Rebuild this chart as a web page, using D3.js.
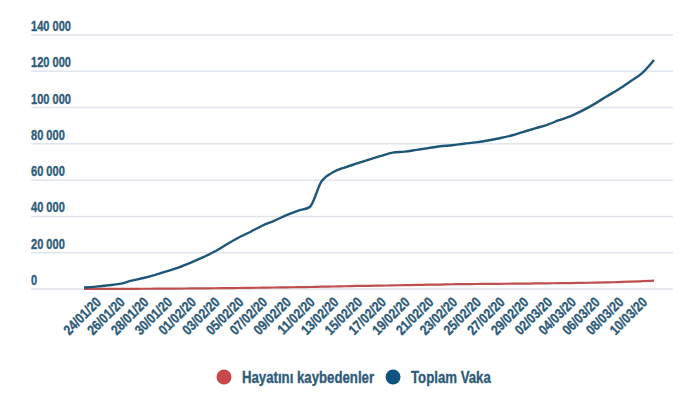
<!DOCTYPE html>
<html>
<head>
<meta charset="utf-8">
<script src="https://cdn.jsdelivr.net/npm/d3@7/dist/d3.min.js"></script>
<style>
  body { margin: 0; background: #fff; }
  text { font-family: "Liberation Sans", Arial, sans-serif; font-weight: bold; }
</style>
</head>
<body>
<div id="chart"></div>
<script>
var dates = ["23/01/20","24/01/20","25/01/20","26/01/20","27/01/20","28/01/20","29/01/20","30/01/20","31/01/20",
  "01/02/20","02/02/20","03/02/20","04/02/20","05/02/20","06/02/20","07/02/20","08/02/20","09/02/20","10/02/20",
  "11/02/20","12/02/20","13/02/20","14/02/20","15/02/20","16/02/20","17/02/20","18/02/20","19/02/20","20/02/20",
  "21/02/20","22/02/20","23/02/20","24/02/20","25/02/20","26/02/20","27/02/20","28/02/20","29/02/20",
  "01/03/20","02/03/20","03/03/20","04/03/20","05/03/20","06/03/20","07/03/20","08/03/20","09/03/20","10/03/20","11/03/20"];

var toplamVaka = [845,1317,2015,2800,4581,6058,7813,9823,11950,
  14553,17391,20630,24545,28266,31439,34876,37552,40553,43099,
  45134,59287,64438,67100,69197,71329,73332,75184,75700,76677,
  77673,78651,79205,80087,80828,81820,83112,84615,86604,
  88585,90443,93016,95314,98425,102050,106099,109991,114381,118948,126214];

var hayatiniKaybedenler = [25,41,56,80,106,132,170,213,259,
  304,362,426,492,565,638,724,813,910,1018,
  1115,1261,1383,1526,1669,1775,1873,2009,2126,2247,
  2360,2460,2618,2699,2763,2800,2858,2923,2977,
  3050,3117,3202,3285,3387,3494,3599,3827,4025,4296,4628];

var yTicks = [0,20000,40000,60000,80000,100000,120000,140000];
var seriesNames = ["Hayatını kaybedenler","Toplam Vaka"];
var lineColors = ["#bf4f4f","#1e5678"];
var dotColors = ["#c8474a","#0f5480"];
var textColor = "#2d5b79";

var width = 700, height = 397;

var svg = d3.select("#chart")
            .append("svg")
            .attr("width", width)
            .attr("height", height);

var x = d3.scalePoint()
          .domain(dates)
          .range([84, 654]);

var y = d3.scaleLinear()
          .domain([0, 140000])
          .range([289, 35]);

var fmt = d3.formatLocale({decimal: ",", thousands: " ", grouping: [3], currency: ["", ""]}).format(",");

// the bold face is squeezed horizontally and given a thin outline so it reads as a heavy condensed font
function heavy(sel) {
  sel.attr("fill", textColor)
     .attr("stroke", textColor)
     .attr("stroke-width", 0.35);
}

// grid + y labels
var grid = svg.append("g");
grid.selectAll("line")
    .data(yTicks)
    .enter()
    .append("line")
    .attr("x1", 31).attr("x2", 673)
    .attr("y1", d => y(d)).attr("y2", d => y(d))
    .attr("stroke", "#dfe5ea")
    .attr("stroke-width", 1.5);

grid.selectAll("text")
    .data(yTicks)
    .enter()
    .append("text")
    .attr("transform", d => "translate(31," + (y(d) - 4) + ") scale(0.79,1)")
    .style("font-size", "14px")
    .call(heavy)
    .text(d => fmt(d));

// x labels, every second day
svg.append("g")
   .selectAll("text")
   .data(dates.filter((d, i) => i % 2 === 1))
   .enter()
   .append("text")
   .attr("transform", d => "translate(" + (x(d) + 6) + ",303) rotate(-45) scale(0.85,1)")
   .attr("text-anchor", "end")
   .style("font-size", "14px")
   .call(heavy)
   .text(d => d);

// lines
var line = d3.line()
             .x((d, i) => x(dates[i]))
             .y(d => y(d))
             .curve(d3.curveMonotoneX);

svg.append("path")
   .datum(hayatiniKaybedenler)
   .attr("d", line)
   .attr("fill", "none")
   .attr("stroke", lineColors[0])
   .attr("stroke-width", 2.2);

svg.append("path")
   .datum(toplamVaka)
   .attr("d", line)
   .attr("fill", "none")
   .attr("stroke", lineColors[1])
   .attr("stroke-width", 2.4);

// legend
var legend = svg.append("g");
var lx = 224;
seriesNames.forEach(function (name, i) {
  var g = legend.append("g").attr("transform", "translate(" + lx + ",377)");
  g.append("circle")
   .attr("r", 7.5)
   .attr("fill", dotColors[i]);
  var t = g.append("text")
   .attr("transform", "translate(18,5.5) scale(0.8,1)")
   .style("font-size", "16.5px")
   .call(heavy)
   .text(name);
  lx += 18 + t.node().getComputedTextLength() * 0.8 + 19;
});
</script>
</body>
</html>
